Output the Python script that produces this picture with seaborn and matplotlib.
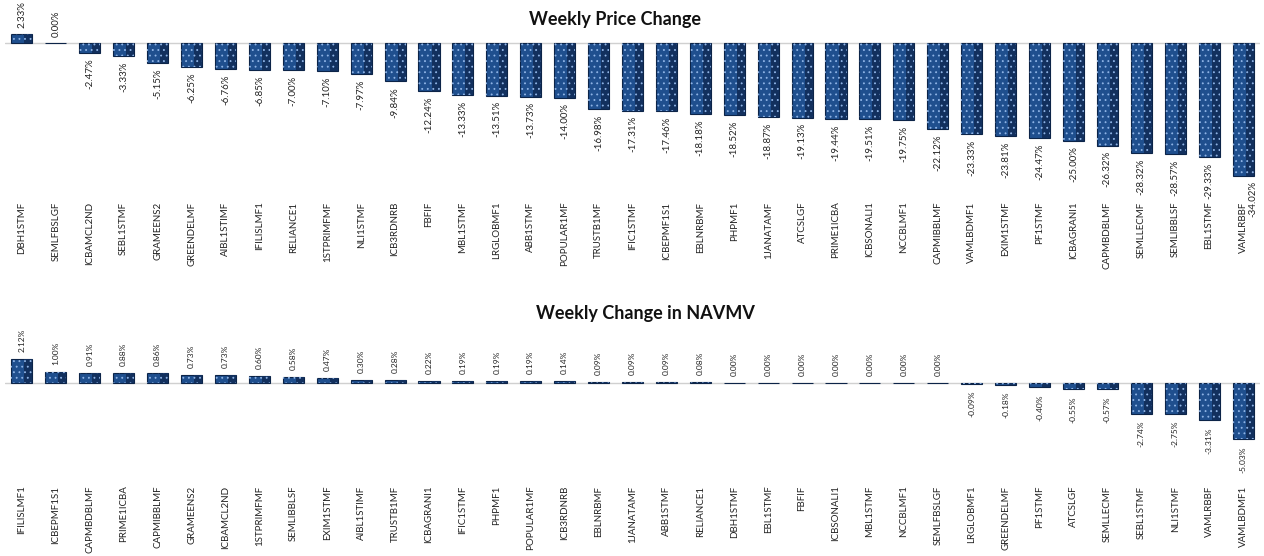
import matplotlib
matplotlib.use("Agg")
import matplotlib.pyplot as plt
import seaborn as sns
import pandas as pd

price_names = ["DBH1STMF", "SEMLFBSLGF", "ICBAMCL2ND", "SEBL1STMF", "GRAMEENS2", "GREENDELMF",
               "AIBL1STIMF", "IFILISLMF1", "RELIANCE1", "1STPRIMFMF", "NLI1STMF", "ICB3RDNRB",
               "FBFIF", "MBL1STMF", "LRGLOBMF1", "ABB1STMF", "POPULAR1MF", "TRUSTB1MF",
               "IFIC1STMF", "ICBEPMF1S1", "EBLNRBMF", "PHPMF1", "1JANATAMF", "ATCSLGF",
               "PRIME1ICBA", "ICBSONALI1", "NCCBLMF1", "CAPMIBBLMF", "VAMLBDMF1", "EXIM1STMF",
               "PF1STMF", "ICBAGRANI1", "CAPMBDBLMF", "SEMLLECMF", "SEMLIBBLSF", "EBL1STMF",
               "VAMLRBBF"]
price_change = [2.33, 0.00, -2.47, -3.33, -5.15, -6.25, -6.76, -6.85, -7.00, -7.10, -7.97, -9.84,
                -12.24, -13.33, -13.51, -13.73, -14.00, -16.98, -17.31, -17.46, -18.18, -18.52,
                -18.87, -19.13, -19.44, -19.51, -19.75, -22.12, -23.33, -23.81, -24.47, -25.00,
                -26.32, -28.32, -28.57, -29.33, -34.02]

nav_names = ["IFILISLMF1", "ICBEPMF1S1", "CAPMBDBLMF", "PRIME1ICBA", "CAPMIBBLMF", "GRAMEENS2",
             "ICBAMCL2ND", "1STPRIMFMF", "SEMLIBBLSF", "EXIM1STMF", "AIBL1STIMF", "TRUSTB1MF",
             "ICBAGRANI1", "IFIC1STMF", "PHPMF1", "POPULAR1MF", "ICB3RDNRB", "EBLNRBMF",
             "1JANATAMF", "ABB1STMF", "RELIANCE1", "DBH1STMF", "EBL1STMF", "FBFIF", "ICBSONALI1",
             "MBL1STMF", "NCCBLMF1", "SEMLFBSLGF", "LRGLOBMF1", "GREENDELMF", "PF1STMF",
             "ATCSLGF", "SEMLLECMF", "SEBL1STMF", "NLI1STMF", "VAMLRBBF", "VAMLBDMF1"]
nav_change = [2.12, 1.00, 0.91, 0.88, 0.86, 0.73, 0.73, 0.60, 0.58, 0.47, 0.30, 0.28, 0.22,
              0.19, 0.19, 0.19, 0.14, 0.09, 0.09, 0.09, 0.08, 0.00, 0.00, 0.00, 0.00, 0.00,
              0.00, 0.00, -0.09, -0.18, -0.40, -0.55, -0.57, -2.74, -2.75, -3.31, -5.03]

sns.set_theme(style="white")
plt.rcParams["font.family"] = ["Lato", "DejaVu Sans"]
plt.rcParams["hatch.linewidth"] = 0.6

W, H = 1264, 556
fig = plt.figure(figsize=(W / 100, H / 100), dpi=100)

BAR_COLOR = "#1F4F8E"
SHADE_COLOR = "#12305E"
EDGE_COLOR = "#0C2448"
DOT_COLOR = "#8FB4E6"


def px_axes(left, top, right, bottom):
    return fig.add_axes([left / W, 1 - bottom / H, (right - left) / W, (bottom - top) / H])


def draw_panel(ax, names, values, ylim, lab_size, lab_pad, tick_size):
    df = pd.DataFrame({"name": names, "value": values})
    sns.barplot(data=df, x="name", y="value", ax=ax, color=BAR_COLOR, width=0.62,
                saturation=1, edgecolor=EDGE_COLOR, linewidth=0.8, errorbar=None)
    for p in list(ax.patches):
        x0, y0 = p.get_xy()
        w, h = p.get_width(), p.get_height()
        # darker right-hand bevel
        ax.add_patch(plt.Rectangle((x0 + w * 0.62, y0), w * 0.38, h, facecolor=SHADE_COLOR,
                                   edgecolor="none", linewidth=0, zorder=p.get_zorder()))
        # dotted texture
        ax.add_patch(plt.Rectangle((x0, y0), w, h, facecolor="none", edgecolor=DOT_COLOR,
                                   hatch="...", linewidth=0, zorder=p.get_zorder() + 0.1))
    ax.set_ylim(*ylim)
    ax.set_xlim(-0.5, len(names) - 0.5)
    ax.axhline(0, color="#D0D0D0", linewidth=1.0, zorder=0)
    ax.set_xlabel("")
    ax.set_ylabel("")
    ax.set_yticks([])
    ax.tick_params(axis="x", length=0, pad=4, labelsize=tick_size, labelrotation=90,
                   colors="#222222")
    for lbl in ax.get_xticklabels():
        lbl.set_verticalalignment("top")
    for s in ax.spines.values():
        s.set_visible(False)
    n = len(values)
    for i, v in enumerate(values):
        t = f"{v:.2f}%"
        if v >= 0:
            ax.annotate(t, (i, v), xytext=(0, lab_pad), textcoords="offset points",
                        rotation=90, ha="center", va="bottom", fontsize=lab_size,
                        color="#222222", annotation_clip=False)
        else:
            dx = 0
            if i == n - 1 and v < ylim[0] * 0.8:
                dx = 7
            ax.annotate(t, (i, v), xytext=(dx, -lab_pad), textcoords="offset points",
                        rotation=90, ha="center", va="top", fontsize=lab_size,
                        color="#222222", annotation_clip=False)


ax1 = px_axes(5, 26, 1260, 196)
draw_panel(ax1, price_names, price_change,
           (-(196 - 43) / 3.9, (43 - 26) / 3.9), 7, 4, 7)
fig.text(615 / W, 1 - 20 / H, "Weekly Price Change", ha="center", va="center",
         fontsize=13, fontweight="bold", color="#111111")

ax2 = px_axes(5, 325, 1260, 480)
draw_panel(ax2, nav_names, nav_change,
           (-(480 - 383) / 11.2, (383 - 325) / 11.2), 6, 5, 7)
fig.text(645 / W, 1 - 314 / H, "Weekly Change in NAVMV", ha="center", va="center",
         fontsize=13, fontweight="bold", color="#111111")

fig.savefig("out.png", dpi=100, facecolor="white")
